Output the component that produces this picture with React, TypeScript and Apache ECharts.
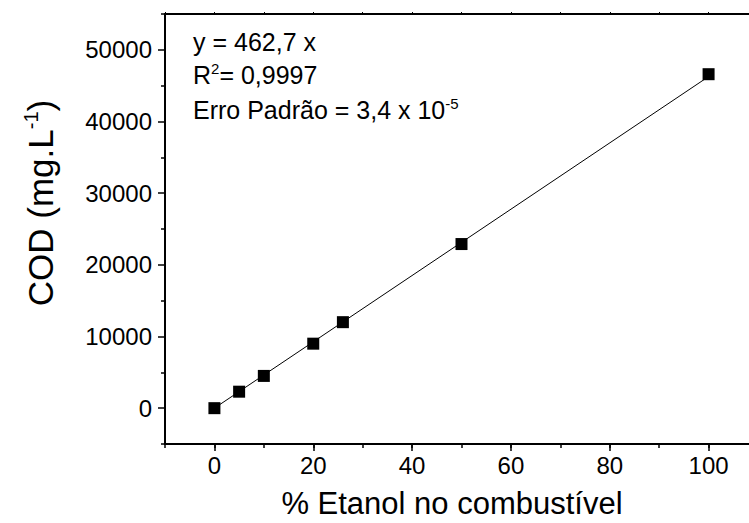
import React, { useEffect, useRef } from "react";
import * as echarts from "echarts";

const etanolPct = [0, 5, 10, 20, 26, 50, 100];
const codValues = [0, 2300, 4500, 9000, 12000, 22900, 46600];
const fitSlope = 462.7;
const fitRange = [0, 100];
const xTickLabels = [0, 20, 40, 60, 80, 100];
const yTickLabels = [0, 10000, 20000, 30000, 40000, 50000];

const FONT = "'Liberation Sans', Arial, sans-serif";

export default function App() {
  const ref = useRef<HTMLDivElement>(null);
  useEffect(() => {
    document.body.style.margin = "0";
    const chart = echarts.init(ref.current!, null, { renderer: "svg" });
    const axisLine = { show: true, onZero: false, lineStyle: { color: "#000", width: 2 } };
    const noSplit = { show: false };
    const xBase = { type: "value", min: -10, max: 110, splitLine: noSplit };
    const yBase = { type: "value", min: -5000, max: 55000, splitLine: noSplit };
    const plain = (v: number) => String(v);
    chart.setOption({
      animation: false,
      backgroundColor: "#fff",
      grid: { left: 165, top: 14, right: 0, bottom: 79, containLabel: false },
      xAxis: [
        {
          ...xBase,
          position: "bottom",
          axisLine,
          axisTick: { show: true, inside: false, length: 7, customValues: xTickLabels, lineStyle: { color: "#000", width: 1.5 } },
          axisLabel: { show: true, customValues: xTickLabels, formatter: plain, margin: 9, color: "#000", fontSize: 24, fontFamily: FONT },
        },
        {
          ...xBase,
          position: "bottom",
          interval: 10,
          axisLine: { show: false, onZero: false },
          axisTick: { show: true, inside: false, length: 4, lineStyle: { color: "#000", width: 1.5 } },
          axisLabel: { show: false },
        },
        {
          ...xBase,
          position: "top",
          interval: 10,
          axisLine,
          axisTick: { show: true, inside: false, length: 2, lineStyle: { color: "#000", width: 1 } },
          axisLabel: { show: false },
        },
      ],
      yAxis: [
        {
          ...yBase,
          position: "left",
          axisLine,
          axisTick: { show: true, inside: false, length: 7, customValues: yTickLabels, lineStyle: { color: "#000", width: 1.5 } },
          axisLabel: { show: true, customValues: yTickLabels, formatter: plain, margin: 13, color: "#000", fontSize: 24, fontFamily: FONT },
        },
        {
          ...yBase,
          position: "left",
          interval: 10000,
          axisLine: { show: false, onZero: false },
          axisTick: { show: true, inside: false, length: 4, lineStyle: { color: "#000", width: 1.5 } },
          axisLabel: { show: false },
        },
      ],
      series: [
        {
          type: "line",
          xAxisIndex: 0,
          yAxisIndex: 0,
          data: fitRange.map((x) => [x, x * fitSlope]),
          symbol: "none",
          lineStyle: { color: "#000", width: 1 },
          z: 2,
        },
        {
          type: "scatter",
          xAxisIndex: 0,
          yAxisIndex: 0,
          data: etanolPct.map((x, i) => [x, codValues[i]]),
          symbol: "rect",
          symbolSize: 12,
          itemStyle: { color: "#000", opacity: 1 },
          z: 3,
        },
      ],
      graphic: [
        {
          type: "text",
          left: 193,
          top: 29,
          style: { text: "y = 462,7 x", fill: "#000", font: `25px ${FONT}` },
        },
        {
          type: "text",
          left: 193,
          top: 61,
          style: {
            text: "R{sup|2}= 0,9997",
            fill: "#000",
            font: `25px ${FONT}`,
            rich: {
              sup: { fontSize: 15, fontFamily: FONT, fill: "#000", verticalAlign: "top", lineHeight: 28 },
            },
          },
        },
        {
          type: "text",
          left: 193,
          top: 96,
          style: {
            text: "Erro Padrão = 3,4 x 10{sup|-5}",
            fill: "#000",
            font: `25px ${FONT}`,
            rich: {
              sup: { fontSize: 15, fontFamily: FONT, fill: "#000", verticalAlign: "top", lineHeight: 28 },
            },
          },
        },
        {
          type: "text",
          x: 40,
          y: 203,
          rotation: Math.PI / 2,
          style: {
            text: "COD (mg.L{sup|-1})",
            fill: "#000",
            font: `35px ${FONT}`,
            align: "center",
            verticalAlign: "middle",
            rich: {
              sup: { fontSize: 20, fontFamily: FONT, fill: "#000", verticalAlign: "top", lineHeight: 39 },
            },
          },
        },
        {
          type: "text",
          x: 452,
          y: 503,
          style: {
            text: "% Etanol no combustível",
            fill: "#000",
            font: `31px ${FONT}`,
            align: "center",
            verticalAlign: "middle",
          },
        },
      ],
    });
    return () => chart.dispose();
  }, []);
  return (
    <div style={{ width: 749, height: 523, overflow: "hidden" }}>
      <div ref={ref} style={{ width: 758, height: 523 }} />
    </div>
  );
}
